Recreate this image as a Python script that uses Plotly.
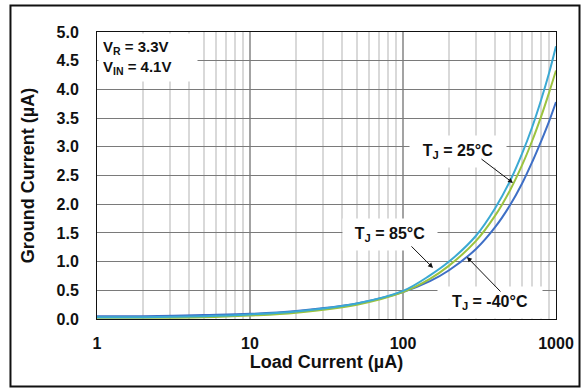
import plotly.graph_objects as go

# Load current sweep (µA) and ground current (µA) at three junction temperatures
load_current = [1, 2, 5, 10, 20, 50, 100, 150, 200, 300, 400, 500, 600, 700, 800, 900, 1000]
iq_85c = [0.03, 0.03, 0.05, 0.08, 0.13, 0.27, 0.49, 0.76, 1.00, 1.45, 1.93, 2.40, 2.88, 3.35, 3.82, 4.28, 4.75]
iq_25c = [0.02, 0.02, 0.03, 0.06, 0.11, 0.25, 0.47, 0.70, 0.93, 1.36, 1.80, 2.24, 2.68, 3.11, 3.53, 3.94, 4.33]
iq_m40c = [0.05, 0.05, 0.07, 0.09, 0.14, 0.27, 0.47, 0.66, 0.85, 1.22, 1.60, 1.98, 2.36, 2.74, 3.10, 3.44, 3.78]

y_ticks = [0.0, 0.5, 1.0, 1.5, 2.0, 2.5, 3.0, 3.5, 4.0, 4.5, 5.0]
x_ticks = [1, 10, 100, 1000]

FONT = "Liberation Sans, Arial, sans-serif"

fig = go.Figure()
series = [
    ("T<sub>J</sub> = -40°C", iq_m40c, "#3e6fc6"),
    ("T<sub>J</sub> = 25°C", iq_25c, "#9cc33f"),
    ("T<sub>J</sub> = 85°C", iq_85c, "#3ba9d3"),
]
for name, vals, color in series:
    fig.add_trace(go.Scatter(
        x=load_current, y=vals, mode="lines", name=name,
        line=dict(color=color, width=2, shape="spline", smoothing=1.0),
        showlegend=False,
    ))

fig.update_xaxes(
    type="log", range=[0, 3],
    tickvals=x_ticks, ticktext=[str(v) for v in x_ticks],
    ticks="outside", ticklen=10, tickcolor="rgba(0,0,0,0)",
    tickfont=dict(family=FONT, size=16, color="#111", weight="bold"),
    showgrid=True, gridcolor="#a3a3a3", gridwidth=2,
    minor=dict(dtick="D1", showgrid=True, gridcolor="#d9d9d9", gridwidth=2, ticks=""),
    showline=True, linecolor="#111", linewidth=1, mirror=True,
    zeroline=False,
    title=dict(text="Load Current (µA)", standoff=2,
               font=dict(family=FONT, size=18, color="#111", weight="bold")),
)
fig.update_yaxes(
    range=[0, 5], tickvals=y_ticks, tickformat=".1f",
    ticks="outside", ticklen=14, tickcolor="rgba(0,0,0,0)",
    tickfont=dict(family=FONT, size=16, color="#111", weight="bold"),
    showgrid=True, gridcolor="#7a7a7a", gridwidth=1,
    showline=True, linecolor="#111", linewidth=1, mirror=True,
    zeroline=False,
    title=dict(text="Ground Current (µA)", standoff=17,
               font=dict(family=FONT, size=18, color="#111", weight="bold")),
)

ann_font = dict(family=FONT, size=16, color="#111", weight="bold")

# Condition box in the upper-left corner of the plot
fig.add_annotation(
    xref="paper", yref="paper", x=0, y=1, xanchor="left", yanchor="top",
    xshift=1, yshift=-1,
    text="V<sub>R</sub> = 3.3V<br>V<sub>IN</sub> = 4.1V",
    align="left", showarrow=False, bgcolor="white", borderpad=4, width=90,
    font=dict(family=FONT, size=15, color="#111", weight="bold"),
)

# Temperature labels (x in log10 units on the log axis)
labels = [
    ("T<sub>J</sub> = 25°C", 2.36, 2.91, 84),
    ("T<sub>J</sub> = 85°C", 1.915, 1.48, 82),
    ("T<sub>J</sub> = -40°C", 2.57, 0.28, 92),
]
for text, lx, ly, w in labels:
    fig.add_annotation(
        x=lx, y=ly, text=text, showarrow=False, bgcolor="white",
        borderpad=6, width=w, font=ann_font,
    )

# Leader arrows from each label to its curve
arrows = [
    (2.719, 2.37, -33, -25),
    (2.196, 0.89, -23, -23),
    (2.418, 1.08, 35, 36),
]
for hx, hy, ax, ay in arrows:
    fig.add_annotation(
        x=hx, y=hy, text="", showarrow=True, ax=ax, ay=ay,
        arrowhead=2, arrowsize=1, arrowwidth=1, arrowcolor="#111",
    )

# Outer frame around the whole figure
fig.add_shape(
    type="rect", xref="paper", yref="paper",
    x0=-0.1885, x1=1.0512, y0=-0.2352, y1=1.0923,
    line=dict(color="#111", width=2), fillcolor="rgba(0,0,0,0)", layer="above",
)

fig.update_layout(
    width=581, height=388,
    margin=dict(l=97, r=25, t=32, b=69, autoexpand=False),
    paper_bgcolor="white", plot_bgcolor="white",
    font=dict(family=FONT, color="#111"),
)

fig.write_html("out.html")
